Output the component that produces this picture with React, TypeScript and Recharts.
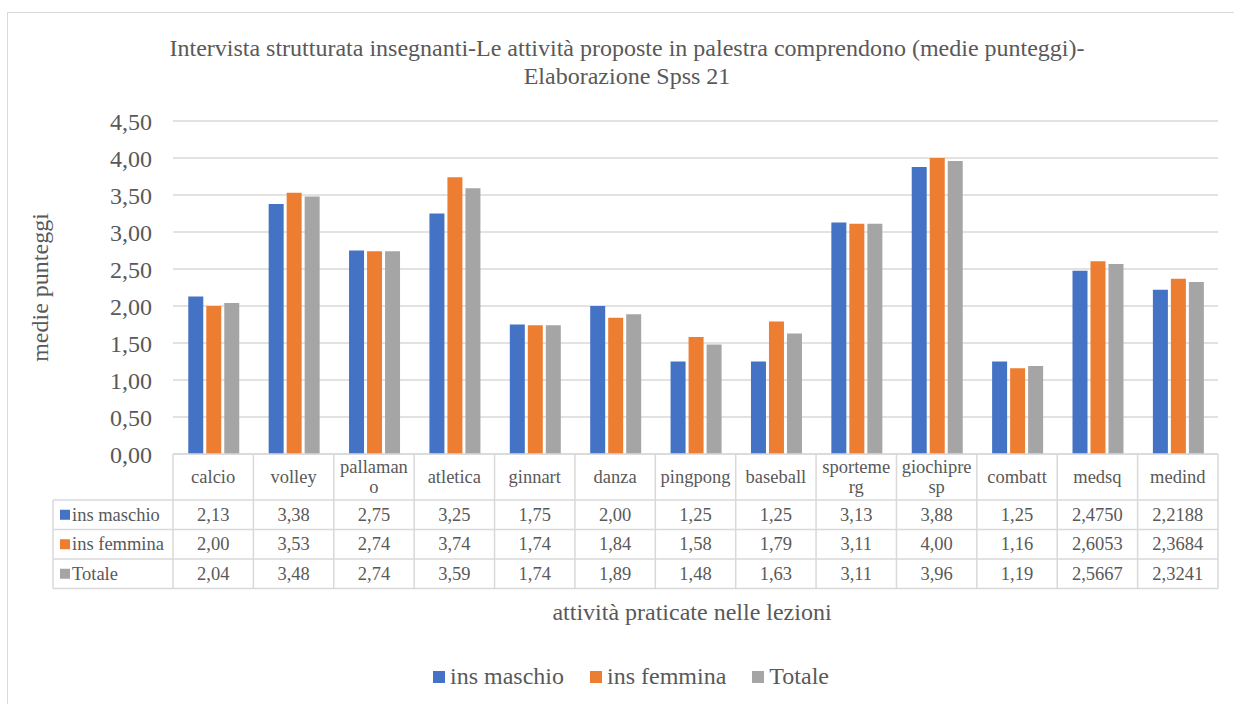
import { Bar, BarChart, CartesianGrid, Legend, XAxis, YAxis } from "recharts";

const categories = [
  "calcio",
  "volley",
  "pallamano",
  "atletica",
  "ginnart",
  "danza",
  "pingpong",
  "baseball",
  "sportemerg",
  "giochipresp",
  "combatt",
  "medsq",
  "medind",
];
const insMaschio = [2.13, 3.38, 2.75, 3.25, 1.75, 2.0, 1.25, 1.25, 3.13, 3.88, 1.25, 2.475, 2.2188];
const insFemmina = [2.0, 3.53, 2.74, 3.74, 1.74, 1.84, 1.58, 1.79, 3.11, 4.0, 1.16, 2.6053, 2.3684];
const totale = [2.04, 3.48, 2.74, 3.59, 1.74, 1.89, 1.48, 1.63, 3.11, 3.96, 1.19, 2.5667, 2.3241];
const decimals = [2, 2, 2, 2, 2, 2, 2, 2, 2, 2, 2, 4, 4];
const yTicks = [0, 0.5, 1, 1.5, 2, 2.5, 3, 3.5, 4, 4.5];

const series = [
  { key: "maschio", name: "ins maschio", color: "#4472C4", values: insMaschio },
  { key: "femmina", name: "ins femmina", color: "#ED7D31", values: insFemmina },
  { key: "totale", name: "Totale", color: "#A5A5A5", values: totale },
];

const data = categories.map((cat, i) => ({
  cat,
  maschio: insMaschio[i],
  femmina: insFemmina[i],
  totale: totale[i],
}));

const W = 1234;
const H = 704;
const PLOT_L = 173;
const PLOT_R = 1218;
const PLOT_T = 121;
const PLOT_B = 454;
const YAXIS_W = 80;
const TABLE_L = 53;
const HEADER_B = 500;
const ROW_H = 29.5;
const COL_W = (PLOT_R - PLOT_L) / categories.length;

const FONT = "'Liberation Serif', 'Times New Roman', serif";
const TEXT = "#595959";
const LINE = "#d9d9d9";

const fmt = (v: number, d = 2) => v.toFixed(d).replace(".", ",");

// break header text by characters when it doesn't fit the cell
let ctx: CanvasRenderingContext2D | null = null;
function wrap(text: string, maxW: number, font: string) {
  if (!ctx) ctx = document.createElement("canvas").getContext("2d");
  if (!ctx) return [text];
  ctx.font = font;
  const lines: string[] = [];
  let cur = "";
  for (const ch of text) {
    if (cur && ctx.measureText(cur + ch).width > maxW) {
      lines.push(cur);
      cur = ch;
    } else cur += ch;
  }
  lines.push(cur);
  return lines;
}

function DataTable() {
  const rowTops = series.map((_, i) => HEADER_B + i * ROW_H);
  const bottom = HEADER_B + series.length * ROW_H;
  return (
    <svg
      width={W}
      height={H}
      style={{ position: "absolute", left: 0, top: 0, pointerEvents: "none", fontFamily: FONT }}
    >
      {/* grid of the table */}
      <line x1={PLOT_L} x2={PLOT_R} y1={PLOT_B} y2={PLOT_B} stroke={LINE} strokeWidth={1.5} />
      {[...rowTops, bottom].map((y) => (
        <line key={y} x1={TABLE_L} x2={PLOT_R} y1={y} y2={y} stroke={LINE} strokeWidth={1.5} />
      ))}
      <line x1={TABLE_L} x2={TABLE_L} y1={HEADER_B} y2={bottom} stroke={LINE} strokeWidth={1.5} />
      {categories.map((_, i) => (
        <line
          key={i}
          x1={PLOT_L + i * COL_W}
          x2={PLOT_L + i * COL_W}
          y1={PLOT_B}
          y2={bottom}
          stroke={LINE}
          strokeWidth={1.5}
        />
      ))}
      <line x1={PLOT_R} x2={PLOT_R} y1={PLOT_B} y2={bottom} stroke={LINE} strokeWidth={1.5} />

      {/* header */}
      {categories.map((c, i) => {
        const lines = wrap(c, 70, `18.5px ${FONT}`);
        const cx = PLOT_L + (i + 0.5) * COL_W;
        const cy = (PLOT_B + HEADER_B) / 2;
        return lines.map((ln, j) => (
          <text
            key={`${i}-${j}`}
            x={cx}
            y={cy + (j - (lines.length - 1) / 2) * 20}
            textAnchor="middle"
            dominantBaseline="central"
            fontSize={18.5}
            fill={TEXT}
          >
            {ln}
          </text>
        ));
      })}

      {/* rows */}
      {series.map((s, r) => {
        const cy = rowTops[r] + ROW_H / 2;
        return (
          <g key={s.key}>
            <rect x={60} y={cy - 5} width={10} height={10} fill={s.color} />
            <text x={72} y={cy} dominantBaseline="central" fontSize={18.5} fill={TEXT}>
              {s.name}
            </text>
            {s.values.map((v, i) => (
              <text
                key={i}
                x={PLOT_L + (i + 0.5) * COL_W}
                y={cy}
                textAnchor="middle"
                dominantBaseline="central"
                fontSize={18.5}
                fill={TEXT}
              >
                {fmt(v, decimals[i])}
              </text>
            ))}
          </g>
        );
      })}

      {/* titles */}
      <text x={627} y={48} textAnchor="middle" dominantBaseline="central" fontSize={24} fill={TEXT}>
        Intervista strutturata insegnanti-Le attività proposte in palestra comprendono (medie punteggi)-
      </text>
      <text x={627} y={76} textAnchor="middle" dominantBaseline="central" fontSize={24} fill={TEXT}>
        Elaborazione Spss 21
      </text>
      <text
        x={40}
        y={(PLOT_T + PLOT_B) / 2}
        textAnchor="middle"
        dominantBaseline="central"
        fontSize={24}
        fill={TEXT}
        transform={`rotate(-90 40 ${(PLOT_T + PLOT_B) / 2})`}
      >
        medie punteggi
      </text>
      <text x={692} y={612} textAnchor="middle" dominantBaseline="central" fontSize={24} fill={TEXT}>
        attività praticate nelle lezioni
      </text>
    </svg>
  );
}

function LegendContent(props: any) {
  const order = series.map((s) => s.name);
  const payload = [...(props.payload || [])].sort(
    (a: any, b: any) => order.indexOf(a.value) - order.indexOf(b.value)
  );
  return (
    <div
      style={{
        display: "flex",
        justifyContent: "center",
        alignItems: "center",
        gap: 26,
        fontFamily: FONT,
        fontSize: 24,
        color: TEXT,
      }}
    >
      {payload.map((p: any) => (
        <div key={p.value} style={{ display: "flex", alignItems: "center", gap: 5 }}>
          <span style={{ width: 12, height: 12, background: p.color, display: "inline-block" }} />
          <span style={{ fontFamily: FONT }}>{p.value}</span>
        </div>
      ))}
    </div>
  );
}

export default function App() {
  return (
    <div
      style={{
        position: "absolute",
        left: 0,
        top: 0,
        width: W,
        height: H,
        overflow: "hidden",
        background: "#fff",
        fontFamily: FONT,
      }}
    >
      <div
        style={{
          position: "absolute",
          left: 7,
          top: 12,
          width: 1238,
          height: 720,
          border: `1.5px solid ${LINE}`,
        }}
      />
      <BarChart
        width={W}
        height={H}
        data={data}
        margin={{ top: PLOT_T, right: W - PLOT_R, bottom: H - PLOT_B, left: PLOT_L - YAXIS_W }}
        barCategoryGap="19%"
        barGap={3}
        style={{ fontFamily: FONT }}
      >
        <CartesianGrid vertical={false} stroke={LINE} strokeWidth={1.5} />
        <XAxis dataKey="cat" hide />
        <YAxis
          width={YAXIS_W}
          domain={[0, 4.5]}
          ticks={yTicks}
          interval={0}
          axisLine={false}
          tickLine={false}
          tickSize={0}
          tickMargin={21}
          tickFormatter={(v: number) => fmt(v)}
          tick={{ fill: TEXT, fontSize: 24, fontFamily: FONT }}
        />
        <Legend
          verticalAlign="middle"
          layout="horizontal"
          content={LegendContent}
          wrapperStyle={{ position: "absolute", left: 12, width: 1238, top: 663, fontFamily: FONT }}
        />
        {series.map((s) => (
          <Bar
            key={s.key}
            dataKey={s.key}
            name={s.name}
            fill={s.color}
            isAnimationActive={false}
          />
        ))}
      </BarChart>
      <DataTable />
    </div>
  );
}
